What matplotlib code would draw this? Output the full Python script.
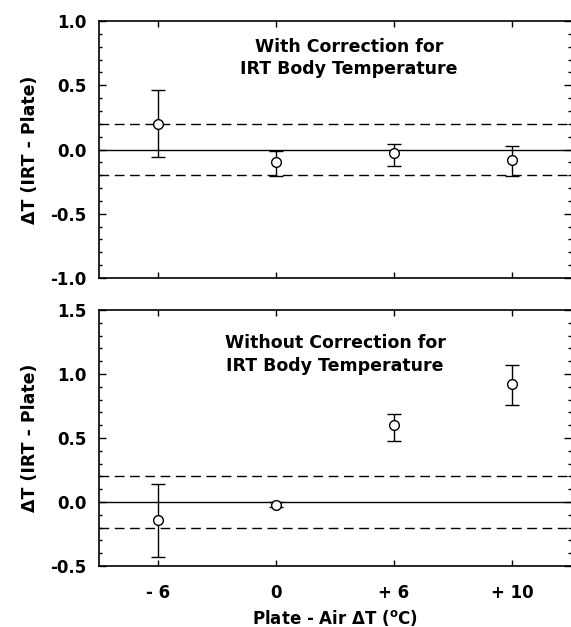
import matplotlib
matplotlib.use("Agg")
import matplotlib.pyplot as plt
from matplotlib.ticker import MultipleLocator

plt.rcParams['font.family'] = ['DejaVu Sans']
plt.rcParams['font.weight'] = 'bold'

categories = ["- 6", "0", "+ 6", "+ 10"]

# top panel: with correction
with_mean = [0.20, -0.10, -0.03, -0.08]
with_upper = [0.46, -0.01, 0.04, 0.03]
with_lower = [-0.06, -0.21, -0.13, -0.21]

# bottom panel: without correction
without_mean = [-0.14, -0.02, 0.60, 0.92]
without_upper = [0.14, 0.00, 0.69, 1.07]
without_lower = [-0.43, -0.04, 0.48, 0.76]

limit_band = 0.2

fig = plt.figure(figsize=(5.71, 6.27), dpi=100)
ax1 = fig.add_axes([0.1734, 0.5566, 0.8266, 0.4099])
ax2 = fig.add_axes([0.1734, 0.0973, 0.8266, 0.4083])

def panel(ax, mean, upper, lower, ylim, text, text_x, text_y):
    x = list(range(len(categories)))
    yerr = [[m - l for m, l in zip(mean, lower)], [u - m for m, u in zip(mean, upper)]]
    ax.axhline(0, color='black', lw=1.0, zorder=1)
    ax.axhline(limit_band, color='black', lw=1.0, ls=(0, (7, 4)), zorder=1)
    ax.axhline(-limit_band, color='black', lw=1.0, ls=(0, (7, 4)), zorder=1)
    ax.errorbar(x, mean, yerr=yerr, fmt='o', mfc='white', mec='black', color='black',
                ms=7, elinewidth=1.0, capsize=5, capthick=1.0, mew=1.0, zorder=3)
    ax.set_xlim(-0.5, 3.5)
    ax.set_ylim(*ylim)
    ax.yaxis.set_major_locator(MultipleLocator(0.5))
    ax.yaxis.set_minor_locator(MultipleLocator(0.1))
    ax.yaxis.set_major_formatter(matplotlib.ticker.FormatStrFormatter('%.1f'))
    ax.set_xticks(x)
    ax.tick_params(axis='both', which='both', direction='in', top=True, right=True,
                   labelsize=12, width=1.0)
    ax.tick_params(axis='y', which='major', length=5, pad=9)
    ax.tick_params(axis='y', which='minor', length=2.5)
    ax.tick_params(axis='x', which='major', length=4)
    ax.spines['right'].set_visible(False)
    for s in ['left', 'top', 'bottom']:
        ax.spines[s].set_linewidth(1.2)
    ax.set_ylabel("ΔT (IRT - Plate)", fontsize=12.5, fontweight='bold', labelpad=8)
    ax.text(text_x, text_y, text, transform=ax.transAxes, ha='center', va='top',
            fontsize=12.5, fontweight='bold', linespacing=1.3)

panel(ax1, with_mean, with_upper, with_lower, (-1.0, 1.0),
      "With Correction for\nIRT Body Temperature", 0.53, 0.935)
ax1.set_xticklabels([])
panel(ax2, without_mean, without_upper, without_lower, (-0.5, 1.5),
      "Without Correction for\nIRT Body Temperature", 0.5, 0.905)
ax2.set_xticklabels(categories)
ax2.tick_params(axis='x', pad=13)
ax2.set_xlabel("Plate - Air ΔT ($^{\\mathbf{o}}$C)", fontsize=12, fontweight='bold', labelpad=4)

fig.savefig("out.png", dpi=100)
